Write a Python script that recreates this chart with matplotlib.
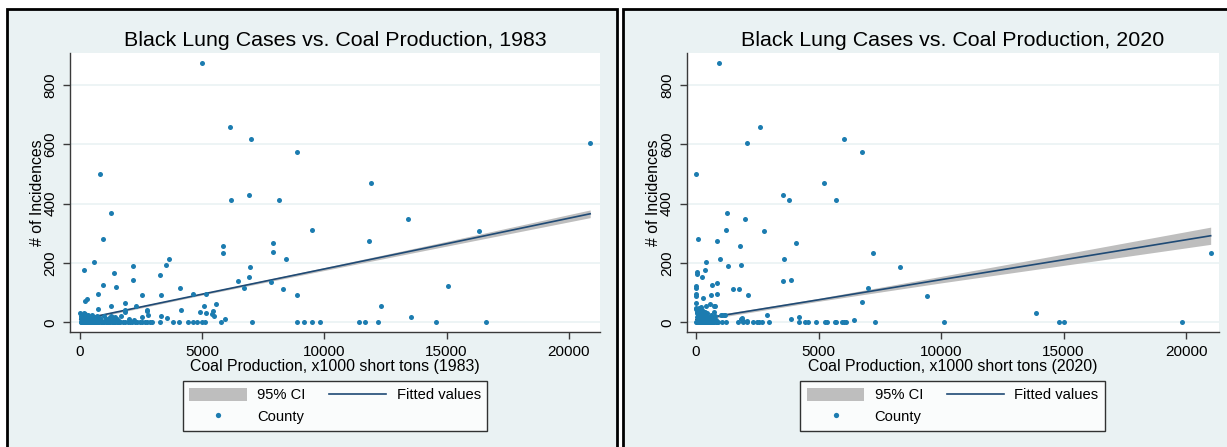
import matplotlib
matplotlib.use('Agg')
import matplotlib.pyplot as plt
from matplotlib.patches import Rectangle, Patch
from matplotlib.lines import Line2D

plt.rcParams['font.family'] = ['Liberation Sans', 'DejaVu Sans']

# ---------------- data ----------------
# (coal production x1000 short tons, black lung incidences) per county
counties_1983 = [
    (4984, 875), (6145, 657), (7000, 617), (8887, 573), (20871, 604), (823, 499),
    (11903, 471), (6919, 429), (6177, 411), (8129, 413), (1290, 370), (13419, 348),
    (9484, 312), (16306, 309), (935, 282), (11823, 274), (7919, 267), (5871, 257),
    (5855, 233), (7887, 236), (581, 204), (3629, 212), (8435, 215), (3516, 192),
    (2177, 189), (6968, 187), (177, 175), (1403, 167), (3258, 160), (2177, 144),
    (6484, 138), (6903, 153), (935, 127), (1468, 120), (15048, 123), (6726, 116),
    (4097, 117), (7806, 135), (8290, 112), (742, 94), (2548, 92), (3339, 91),
    (4629, 94), (5145, 97), (8887, 92), (290, 80), (210, 71), (1839, 66),
    (5581, 63), (1258, 56), (2306, 54), (5097, 54), (12306, 54), (742, 44),
    (1839, 42), (4145, 43), (2742, 40), (5452, 39), (4919, 35), (5177, 33),
    (5403, 28), (2790, 25), (5484, 20), (13532, 17), (3339, 20), (3581, 16),
    (5935, 12),
    (3274, 0), (3823, 0), (4048, 0), (4435, 0), (4629, 0), (4790, 0), (4984, 0),
    (5113, 0), (5758, 0), (7048, 0), (8862, 0), (9162, 0), (9502, 0), (9830, 0),
    (11424, 0), (11670, 0), (12175, 0), (14548, 0), (16605, 0),
    (1650, 0), (1750, 0), (1850, 0), (1950, 0), (2050, 0), (2150, 0), (2250, 0),
    (2350, 0), (2450, 0), (2550, 0), (2650, 0), (2750, 0), (2850, 0), (2950, 0),
    (30, 0), (60, 0), (90, 0), (120, 0), (150, 0), (180, 0), (210, 0), (240, 0),
    (270, 0), (300, 0), (340, 0), (380, 0), (420, 0), (460, 0), (500, 0), (540, 0),
    (580, 0), (620, 0), (660, 0), (700, 0), (750, 0), (800, 0), (850, 0), (900, 0),
    (950, 0), (1000, 0), (1050, 0), (1100, 0), (1150, 0), (1200, 0), (1250, 0),
    (1300, 0), (1350, 0), (1400, 0), (1450, 0), (1500, 0), (1550, 0), (1600, 0),
    (20, 30), (40, 22), (60, 15), (80, 8), (100, 26), (120, 12), (140, 5), (160, 33),
    (190, 18), (220, 28), (250, 10), (280, 20), (310, 6), (340, 24), (370, 14),
    (400, 4), (430, 19), (470, 9), (510, 26), (550, 13), (600, 5), (650, 18),
    (700, 22), (760, 8), (820, 14), (900, 4), (980, 20), (1050, 10), (1120, 6),
    (1200, 15), (1280, 23), (1350, 9), (1420, 17), (1500, 12), (1600, 6), (1700, 20),
    (1860, 34), (2000, 10), (2200, 8), (2550, 17), (2740, 37), (1300, 18), (108, 26),
    (514, 19), (716, 11),
]

counties_2020 = [
    (919, 875), (2595, 657), (2095, 604), (6043, 617), (6769, 573), (16, 499),
    (5206, 471), (3546, 429), (3787, 413), (5721, 411), (1273, 370), (2015, 348),
    (1209, 312), (2772, 309), (97, 282), (854, 274), (4061, 267), (1805, 257),
    (21000, 235), (7204, 233), (3578, 215), (999, 212), (419, 203), (1837, 192),
    (1289, 189), (8316, 187), (371, 175), (32, 169), (60, 163), (226, 153),
    (3546, 138), (3868, 143), (854, 134), (661, 127), (0, 122), (10, 117),
    (1499, 113), (1740, 113), (7010, 116), (2127, 92), (838, 95), (596, 92),
    (9412, 88), (5, 94), (15, 89), (290, 82), (6769, 70), (8, 66), (580, 63),
    (419, 55), (757, 54), (13860, 33), (725, 35), (2917, 24), (1080, 26),
    (1180, 26), (4206, 18), (1886, 16), (3868, 11), (6446, 9), (2100, 6),
    (1064, 0), (1209, 0), (1708, 0), (1918, 0), (2079, 0), (2337, 0), (2482, 0),
    (2578, 0), (2675, 0), (2965, 0), (4190, 0), (4448, 0), (4561, 0), (4883, 0),
    (5254, 0), (5334, 0), (5705, 0), (6043, 0), (6124, 0), (7284, 0), (10121, 0),
    (14827, 0), (15036, 0), (19823, 0), (5661, 0), (5972, 0),
    (10, 0), (30, 0), (50, 0), (70, 0), (90, 0), (110, 0), (130, 0), (150, 0),
    (170, 0), (190, 0), (210, 0), (240, 0), (270, 0), (300, 0), (330, 0), (360, 0),
    (390, 0), (420, 0), (450, 0), (480, 0), (520, 0), (560, 0), (600, 0), (650, 0),
    (700, 0), (750, 0), (800, 0), (850, 0), (900, 0),
    (20, 44), (40, 30), (60, 18), (80, 38), (100, 8), (120, 25), (140, 48), (160, 14),
    (180, 33), (200, 21), (230, 40), (260, 6), (290, 28), (320, 16), (350, 36),
    (380, 10), (410, 22), (440, 30), (480, 12), (520, 4), (560, 18), (600, 26),
    (650, 9), (700, 14), (760, 20), (820, 7), (1022, 24), (1158, 24),
    (5, 50), (25, 42), (45, 35), (65, 28), (85, 46), (105, 15), (125, 32), (150, 22),
    (175, 38), (200, 12), (240, 30), (280, 20), (320, 8), (204, 52), (750, 54),
    (1840, 12), (1900, 4), (300, 26), (450, 18),
]

# fitted values and 95% CI bounds
fit_x_1983 = [0, 5000, 10000, 15000, 20871]
fit_y_1983 = [9, 95, 180, 265, 366]
ci_lo_1983 = [5, 92, 175, 257, 353]
ci_hi_1983 = [13, 98, 185, 273, 379]

fit_x_2020 = [0, 5000, 10000, 15000, 21000]
fit_y_2020 = [9, 76, 144, 211, 292]
ci_lo_2020 = [4, 71, 133, 192, 263]
ci_hi_2020 = [14, 81, 155, 230, 321]

years = ['1983', '2020']
x_ticks = [0, 5000, 10000, 15000, 20000]
y_ticks = [0, 200, 400, 600, 800]

# ---------------- styling ----------------
W, H = 1227, 447
BG = '#EAF2F3'
DOT = '#1C7CB0'
LINE = '#1F4A75'
CI = '#BEBEBE'

fig = plt.figure(figsize=(W / 100, H / 100), dpi=100)
fig.patch.set_facecolor('white')


def fx(px):
    return px / W


def fy(py):
    return 1 - py / H


panels = [
    dict(box=(7, 617), ax=(70, 600), xlim=(-403, 21274), year=years[0],
         pts=counties_1983, fx_=fit_x_1983, fy_=fit_y_1983,
         lo=ci_lo_1983, hi=ci_hi_1983),
    dict(box=(623, 1245), ax=(686.5, 1219), xlim=(-387, 21340), year=years[1],
         pts=counties_2020, fx_=fit_x_2020, fy_=fit_y_2020,
         lo=ci_lo_2020, hi=ci_hi_2020),
]

top, bottom = 53, 332
for p in panels:
    bx0, bx1 = p['box']
    fig.patches.append(Rectangle((fx(bx0), fy(470)), (bx1 - bx0) / W, (470 - 9) / H,
                                 transform=fig.transFigure, facecolor=BG,
                                 edgecolor='black', linewidth=2, zorder=-10))
    ax0, ax1 = p['ax']
    ax = fig.add_axes([fx(ax0), fy(bottom), (ax1 - ax0) / W, (bottom - top) / H])
    ax.set_zorder(1)
    ax.set_facecolor('white')
    ax.set_xlim(*p['xlim'])
    ax.set_ylim(-32.5, 908)
    ax.yaxis.grid(True, color=BG, linewidth=1.2, zorder=0)
    ax.set_axisbelow(True)
    xs = [q[0] for q in p['pts']]
    ys = [q[1] for q in p['pts']]
    ax.fill_between(p['fx_'], p['lo'], p['hi'], color=CI, linewidth=0, zorder=2)
    ax.plot(p['fx_'], p['fy_'], color=LINE, linewidth=1.2, zorder=3)
    ax.scatter(xs, ys, s=13, color=DOT, linewidths=0, zorder=4)
    for s in ['top', 'right']:
        ax.spines[s].set_visible(False)
    for s in ['left', 'bottom']:
        ax.spines[s].set_color('#3a3a3a')
        ax.spines[s].set_linewidth(1.0)
    ax.set_xticks(x_ticks)
    ax.set_xticklabels([str(t) for t in x_ticks])
    ax.set_yticks(y_ticks)
    ax.set_yticklabels([str(t) for t in y_ticks], rotation=90, va='center')
    ax.tick_params(direction='out', length=5, width=1, color='#3a3a3a',
                   labelsize=11, labelcolor='black')
    ax.tick_params(axis='x', pad=4)
    ax.tick_params(axis='y', pad=4)

    cx = (ax0 + ax1) / 2
    fig.text(fx(cx), fy(40), f'Black Lung Cases vs. Coal Production, {p["year"]}',
             ha='center', va='center', fontsize=15.4, color='black')
    fig.text(fx(cx), fy(366), f'Coal Production, x1000 short tons ({p["year"]})',
             ha='center', va='center', fontsize=11.4, color='black')
    fig.text(fx(ax0 - 33), fy((top + bottom) / 2), '# of Incidences', rotation=90,
             ha='center', va='center', fontsize=11.4, color='black')

    handles = [Patch(facecolor=CI, edgecolor='none'),
               Line2D([], [], marker='o', ls='none', color=DOT, markersize=3.8,
                      markeredgewidth=0),
               Line2D([], [], color=LINE, linewidth=1.2)]
    leg = fig.legend(handles=handles, labels=['95% CI', 'County', 'Fitted values'],
                     ncol=2, loc='center', bbox_to_anchor=(fx(cx), fy(406)),
                     frameon=True, fancybox=False, fontsize=10.6,
                     handlelength=3.9, handleheight=1.0, handletextpad=0.7,
                     columnspacing=1.6, borderpad=0.45, labelspacing=0.5)
    leg.get_frame().set_edgecolor('black')
    leg.get_frame().set_linewidth(1.0)

fig.savefig('out.png', dpi=100, facecolor='white')
